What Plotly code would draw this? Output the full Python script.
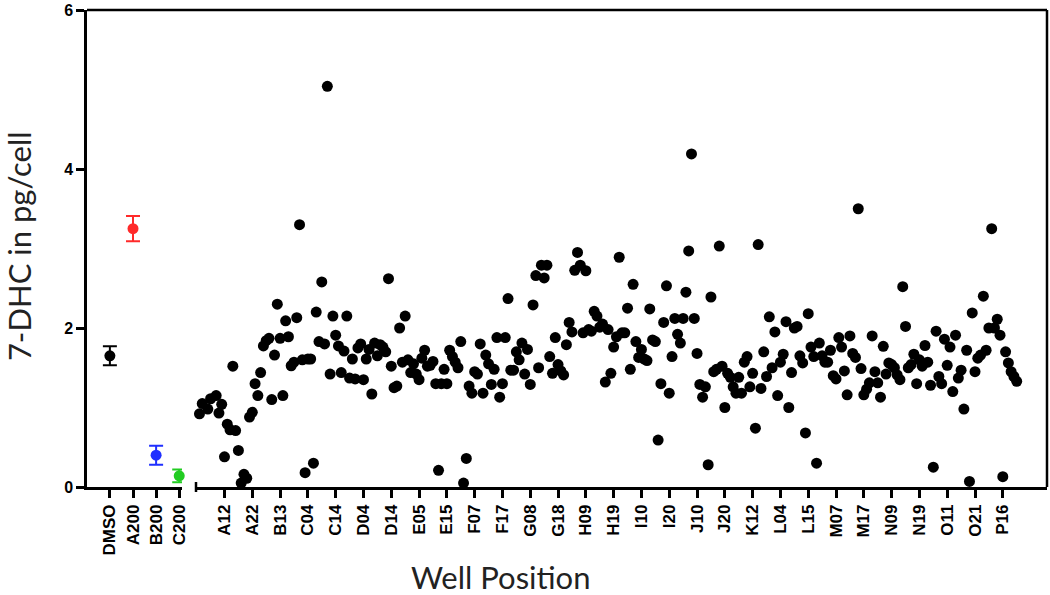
import plotly.graph_objects as go

# ---------------- data ----------------
control_labels = ["DMSO", "A200", "B200", "C200"]
control_means = [1.65, 3.25, 0.40, 0.14]
control_errors = [0.12, 0.16, 0.12, 0.08]
control_colors = ["#000000", "#ff2a2a", "#1f2fff", "#22cc22"]

well_tick_labels = ["A12", "A22", "B13", "C04", "C14", "D04", "D14", "E05", "E15",
                    "F07", "F17", "G08", "G18", "H09", "H19", "I10", "I20", "J10",
                    "J20", "K12", "L04", "L15", "M07", "M17", "N09", "N19", "O11",
                    "O21", "P16"]
well_tick_index = [10, 20, 30, 40, 50, 60, 70, 80, 90, 100, 110, 120, 130, 140, 150,
                   160, 170, 180, 190, 200, 210, 220, 230, 240, 250, 260, 270, 280, 290]

# 7-DHC (pg/cell) per well, in plate order (None = no reading)
well_values = [
    None, 0.92, 1.05, None, 0.98, 1.11, None, 1.15, 0.93, 1.04,
    0.38, 0.79, 0.72, 1.52, 0.71, 0.46, 0.05, 0.16, 0.11, 0.88,
    0.94, 1.30, 1.15, 1.44, 1.775, 1.84, 1.87, 1.10, 1.66, 2.30,
    1.87, 1.15, 2.09, 1.89, 1.525, 1.57, 2.13, 3.30, 1.60, 0.18,
    1.61, 1.61, 0.30, 2.20, 1.83, 2.58, 1.80, 5.04, 1.42, 2.15,
    1.91, 1.775, 1.44, 1.71, 2.15, 1.37, 1.61, 1.36, 1.75, 1.80,
    1.35, 1.61, 1.73, 1.17, 1.81, 1.65, 1.79, 1.76, 1.70, 2.62,
    1.52, 1.25, 1.27, 2.00, 1.57, 2.15, 1.60, 1.44, 1.55, 1.42,
    1.35, 1.62, 1.72, 1.52, 1.53, 1.58, 1.30, 0.21, 1.30, 1.48,
    1.30, 1.72, 1.64, 1.57, 1.50, 1.83, 0.05, 0.36, 1.27, 1.18,
    1.45, 1.42, 1.80, 1.18, 1.66, 1.55, 1.29, 1.48, 1.88, 1.13,
    1.30, 1.88, 2.37, 1.47, 1.47, 1.70, 1.60, 1.81, 1.42, 1.73,
    1.29, 2.29, 2.66, 1.50, 2.79, 2.63, 2.79, 1.64, 1.43, 1.88,
    1.54, 1.46, 1.41, 1.79, 2.07, 1.95, 2.725, 2.95, 2.79, 1.94,
    2.72, 1.98, 1.96, 2.21, 2.15, 2.01, 2.05, 1.32, 1.98, 1.43,
    1.76, 1.89, 2.89, 1.94, 1.94, 2.25, 1.48, 2.55, 1.83, 1.63,
    1.73, 1.61, 1.59, 2.24, 1.85, 1.83, 0.59, 1.30, 2.07, 2.53,
    1.18, 1.64, 2.12, 1.92, 1.81, 2.12, 2.45, 2.97, 4.19, 2.12,
    1.68, 1.29, 1.13, 1.26, 0.28, 2.39, 1.45, 1.48, 3.03, 1.52,
    1.00, 1.43, 1.38, 1.26, 1.18, 1.38, 1.18, 1.57, 1.64, 1.26,
    1.43, 0.74, 3.05, 1.24, 1.70, 1.39, 2.14, 1.50, 1.95, 1.15,
    1.57, 1.67, 2.08, 1.00, 1.44, 2.00, 2.02, 1.65, 1.56, 0.68,
    2.18, 1.76, 1.64, 0.30, 1.81, 1.65, 1.57, 1.57, 1.72, 1.40,
    1.36, 1.88, 1.76, 1.46, 1.16, 1.90, 1.68, 1.63, 3.50, 1.49,
    1.16, 1.23, 1.31, 1.90, 1.45, 1.31, 1.13, 1.77, 1.42, 1.56,
    1.54, 1.50, 1.41, 1.35, 2.52, 2.02, 1.50, 1.54, 1.67, 1.30,
    1.60, 1.52, 1.78, 1.57, 1.28, 0.25, 1.96, 1.39, 1.30, 1.86,
    1.53, 1.76, 1.20, 1.91, 1.37, 1.47, 0.98, 1.72, 0.07, 2.19,
    1.45, 1.62, 1.66, 2.40, 1.72, 2.00, 3.25, 2.00, 2.11, 1.91,
    0.13, 1.70, 1.56, 1.45, 1.39, 1.33,
]
well_index = list(range(len(well_values)))

y_ticks = [0, 2, 4, 6]

# ---------------- figure ----------------
fig = go.Figure()

for i, lab in enumerate(control_labels):
    fig.add_trace(go.Scatter(
        x=[i], y=[control_means[i]], mode="markers",
        marker=dict(size=11, color=control_colors[i]),
        error_y=dict(type="data", array=[control_errors[i]], visible=True,
                     color=control_colors[i], thickness=2, width=7),
        xaxis="x", yaxis="y", showlegend=False, cliponaxis=False, name=lab,
    ))

fig.add_trace(go.Scatter(
    x=well_index, y=well_values, mode="markers",
    marker=dict(size=11, color="black", line=dict(width=0)),
    xaxis="x2", yaxis="y", showlegend=False, cliponaxis=False, name="wells",
))

tick_font = dict(family="Liberation Sans, Arial, sans-serif", size=17, color="black", weight="bold")
ytick_font = dict(family="Liberation Sans, Arial, sans-serif", size=16, color="black", weight="bold")
axis_common = dict(showline=True, linewidth=2.5, linecolor="black", ticks="outside",
                   ticklen=8, tickwidth=2.5, tickcolor="black", showgrid=False,
                   zeroline=False, automargin=False, ticklabeloverflow="allow")

W, H = 1050, 595
L, R, T, B = 87, 3, 10, 108
pw = W - L - R
ph = H - T - B
title_font = dict(family="Lato, Open Sans, sans-serif", size=31, color="#222")

fig.update_layout(
    width=W, height=H,
    margin=dict(l=L, r=R, t=T, b=B, autoexpand=False),
    paper_bgcolor="white", plot_bgcolor="white",
    showlegend=False,
    xaxis=dict(domain=[0, (182 - L) / pw], range=[-0.99, 3.12],
               tickvals=list(range(len(control_labels))), ticktext=control_labels,
               tickangle=-90, anchor="y", tickfont=tick_font, **axis_common),
    xaxis2=dict(domain=[(196 - L) / pw, 1], range=[-0.25, 305.9],
                tickvals=well_tick_index, ticktext=well_tick_labels,
                tickangle=-90, anchor="y", tickfont=tick_font, **axis_common),
    yaxis=dict(domain=[0, 1], range=[0, 6], tickvals=y_ticks, anchor="x",
               tickfont=ytick_font, **axis_common),
    shapes=[
        # top frame line
        dict(type="line", xref="paper", yref="paper", x0=0, x1=1, y0=1, y1=1,
             line=dict(color="black", width=2.5)),
        # right frame line
        dict(type="line", xref="paper", yref="paper", x0=1, x1=1, y0=0, y1=1,
             line=dict(color="black", width=2.5)),
        # end cap of the broken axis
        dict(type="line", xref="x2 domain", yref="paper", x0=0, x1=0,
             y0=-5 / ph, y1=5 / ph, line=dict(color="black", width=2.5)),
    ],
    annotations=[
        dict(text="7-DHC in pg/cell", xref="paper", yref="paper",
             x=(19 - L) / pw, y=0.505, xanchor="center", yanchor="middle",
             textangle=-90, showarrow=False, font=title_font),
        dict(text="Well Position", xref="paper", yref="paper",
             x=(501 - L) / pw, y=(487 - 577) / ph,
             xanchor="center", yanchor="middle", showarrow=False, font=title_font),
    ],
)

fig.write_html("out.html",
               config={"displayModeBar": False},
               post_script="document.body.style.margin='0';document.body.style.overflow='hidden';")
